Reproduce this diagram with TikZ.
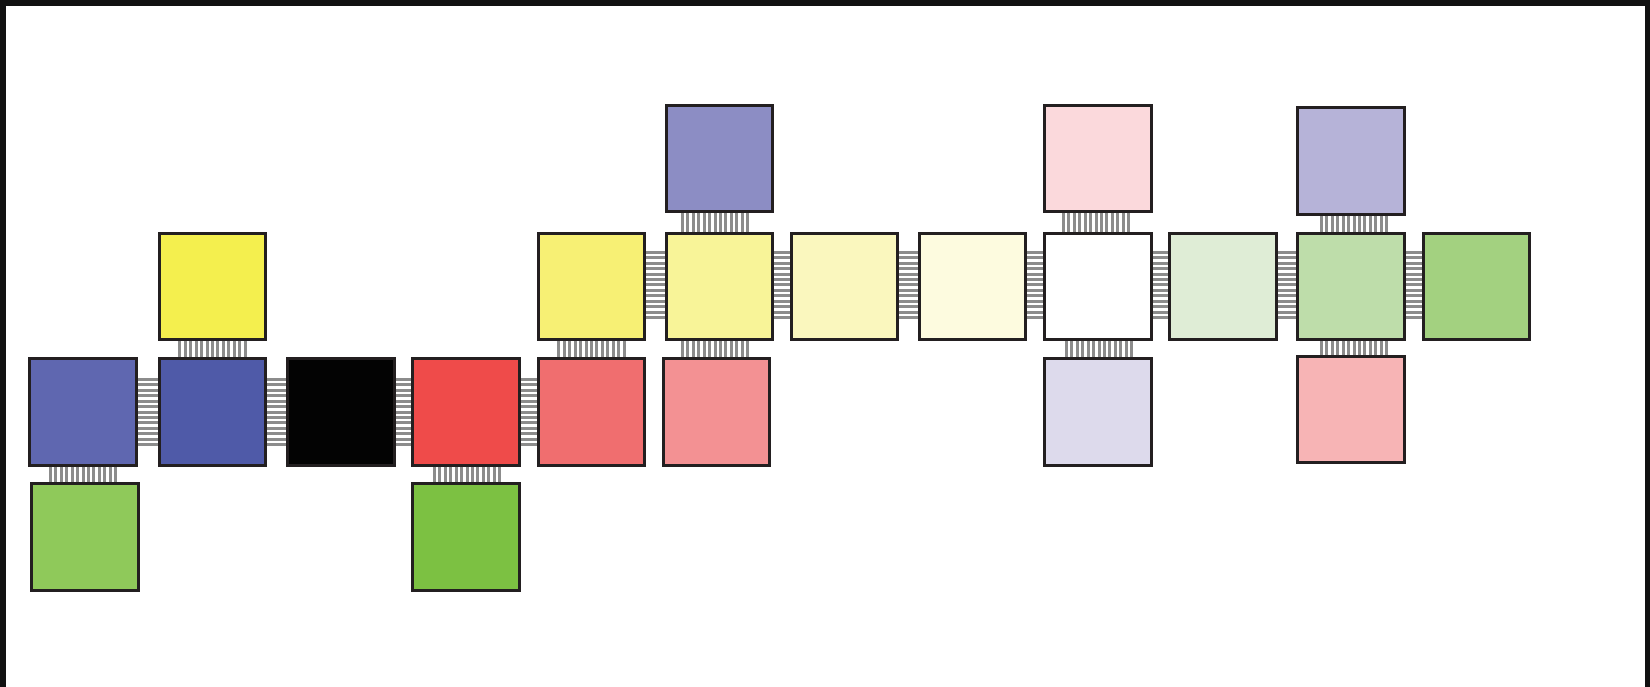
\documentclass[tikz,border=0pt]{standalone}
\usetikzlibrary{backgrounds}
\definecolor{edge}{HTML}{231F20}
\definecolor{stripegray}{HTML}{8C8C8C}
\definecolor{frame}{HTML}{111111}
\definecolor{cA5}{HTML}{8C8DC4}
\definecolor{cA8}{HTML}{FBD9DC}
\definecolor{cA10}{HTML}{B6B3D8}
\definecolor{cB1}{HTML}{F4EF4E}
\definecolor{cB4}{HTML}{F7F074}
\definecolor{cB5}{HTML}{F8F498}
\definecolor{cB6}{HTML}{FAF7BE}
\definecolor{cB7}{HTML}{FDFBDF}
\definecolor{cB8}{HTML}{FFFFFF}
\definecolor{cB9}{HTML}{DFEDD6}
\definecolor{cB10}{HTML}{BEDDAA}
\definecolor{cB11}{HTML}{A3D180}
\definecolor{cC0}{HTML}{5F67B0}
\definecolor{cC1}{HTML}{4F5AA8}
\definecolor{cC2}{HTML}{030303}
\definecolor{cC3}{HTML}{EF4B4A}
\definecolor{cC4}{HTML}{F06E6F}
\definecolor{cC5}{HTML}{F39193}
\definecolor{cC8}{HTML}{DDDAEC}
\definecolor{cC10}{HTML}{F7B4B5}
\definecolor{cD0}{HTML}{8FC95A}
\definecolor{cD3}{HTML}{7CC142}
\tikzset{
  chip/.style={draw=edge, line width=2.8pt, minimum size=106.5pt, inner sep=0pt, outer sep=0pt, fill=#1},
  stripe/.style={draw=stripegray, line width=3pt},
}
\newcommand{\hconn}[3][0]{%
  \foreach \i in {0,...,12}{%
    \path ([yshift=#1pt+(\i-6)*5.45pt]#2.east) coordinate (s);
    \draw[stripe] (s) -- (s -| #3.west);}}
\newcommand{\vconn}[3][0]{%
  \foreach \i in {0,...,12}{%
    \path ([xshift=#1pt+(\i-6)*5.45pt]#2.south) coordinate (s);
    \draw[stripe] (s) -- (s |- #3.north);}}
\begin{document}
\begin{tikzpicture}[x=1pt,y=-1pt]
\useasboundingbox (0,0) rectangle (1650,687);
% frame
\fill[frame] (0,0) rectangle (6,687);
\fill[frame] (0,0) rectangle (1650,6);
\fill[frame] (1645,0) rectangle (1650,687);
% row A
\node[chip=cA5] (A5) at (719.5,158.5) {};
\node[chip=cA8] (A8) at (1098,158.5) {};
\node[chip=cA10] (A10) at (1351,161) {};
% row B
\node[chip=cB1] (B1) at (212.5,286.5) {};
\node[chip=cB4] (B4) at (591.5,286.5) {};
\node[chip=cB5] (B5) at (719.5,286.5) {};
\node[chip=cB6] (B6) at (844.5,286.5) {};
\node[chip=cB7] (B7) at (972.5,286.5) {};
\node[chip=cB8] (B8) at (1098,286.5) {};
\node[chip=cB9] (B9) at (1223,286.5) {};
\node[chip=cB10] (B10) at (1351,286.5) {};
\node[chip=cB11] (B11) at (1476.5,286.5) {};
% row C
\node[chip=cC0] (C0) at (83,412) {};
\node[chip=cC1] (C1) at (212.5,412) {};
\node[chip=cC2] (C2) at (341,412) {};
\node[chip=cC3] (C3) at (466,412) {};
\node[chip=cC4] (C4) at (591.5,412) {};
\node[chip=cC5] (C5) at (716.5,412) {};
\node[chip=cC8] (C8) at (1098,412) {};
\node[chip=cC10] (C10) at (1351,409.5) {};
% row D
\node[chip=cD0] (D0) at (85,537) {};
\node[chip=cD3] (D3) at (466,537) {};
% connectors
\begin{pgfonlayer}{background}
\hconn{C0}{C1}
\hconn{C1}{C2}
\hconn{C2}{C3}
\hconn{C3}{C4}
\hconn[1.5]{B4}{B5}
\hconn[1.5]{B5}{B6}
\hconn[1.5]{B6}{B7}
\hconn[1.5]{B7}{B8}
\hconn[1.5]{B8}{B9}
\hconn[1.5]{B9}{B10}
\hconn[1.5]{B10}{B11}
\vconn{B1}{C1}
\vconn{C0}{D0}
\vconn[1]{C3}{D3}
\vconn{B4}{C4}
\vconn[-4.5]{A5}{B5}
\vconn[-4.5]{B5}{C5}
\vconn[-2]{A8}{B8}
\vconn[1]{B8}{C8}
\vconn[3]{A10}{B10}
\vconn[3]{B10}{C10}
\end{pgfonlayer}
\end{tikzpicture}
\end{document}
